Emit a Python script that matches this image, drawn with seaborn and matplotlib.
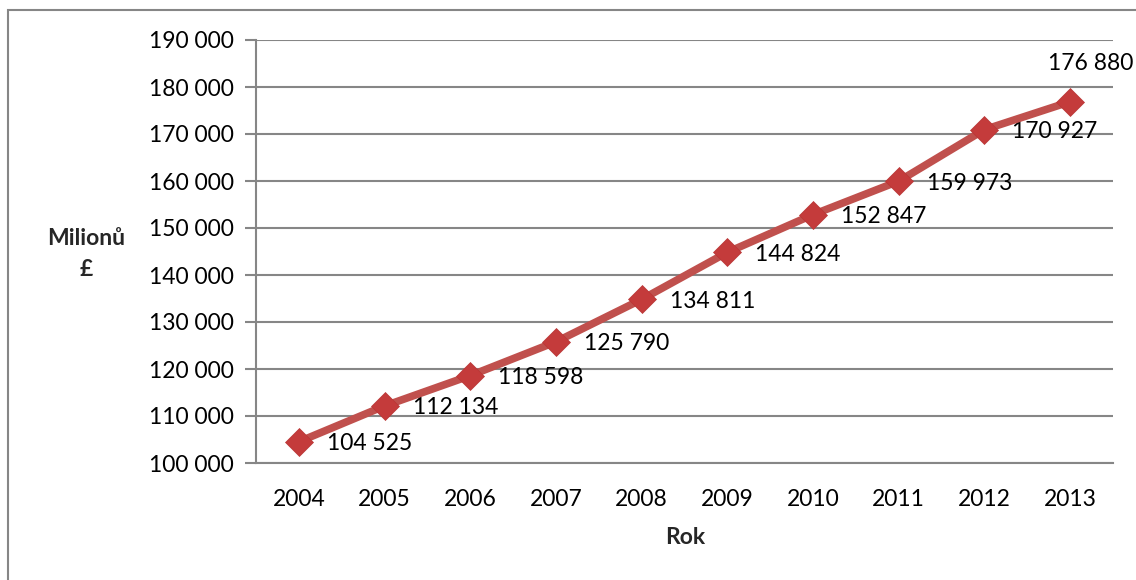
import matplotlib
matplotlib.use("Agg")
import matplotlib.pyplot as plt
import matplotlib.patches as mpatches
from matplotlib.ticker import FuncFormatter, FixedLocator
import seaborn as sns
import pandas as pd

years = ["2004", "2005", "2006", "2007", "2008", "2009", "2010", "2011", "2012", "2013"]
values = [104525, 112134, 118598, 125790, 134811, 144824, 152847, 159973, 170927, 176880]
y_ticks = [100000, 110000, 120000, 130000, 140000, 150000, 160000, 170000, 180000, 190000]
y_label = "Milionů\n£"
x_label = "Rok"

sns.set_style("white")
plt.rcParams["font.family"] = ["Lato", "DejaVu Sans"]

def fmt(v):
    return f"{int(v):,}".replace(",", " ")

W, H = 1136, 580
fig = plt.figure(figsize=(W / 100, H / 100), dpi=100)
ax = fig.add_axes([256 / W, 1 - 463 / H, (1113 - 256) / W, (463 - 40) / H])

df = pd.DataFrame({"pos": list(range(len(years))), "val": values})
line_color = "#C0504D"
sns.lineplot(data=df, x="pos", y="val", ax=ax, color=line_color, linewidth=5.5,
             marker="D", markersize=14.5, markerfacecolor="#C43B3B",
             markeredgecolor="#B83535", markeredgewidth=0.5, zorder=5)

ax.set_xlim(-0.5, len(years) - 0.5)
ax.set_ylim(y_ticks[0], y_ticks[-1])
ax.set_yticks(y_ticks)
ax.yaxis.set_major_formatter(FuncFormatter(lambda v, p: fmt(v)))
ax.set_xticks(range(len(years)))
ax.set_xticklabels(years)
ax.xaxis.set_minor_locator(FixedLocator([i - 0.5 for i in range(len(years) + 1)]))
grid_c = "#868686"
ax.tick_params(axis="x", which="major", length=0, pad=19, labelsize=16.5, labelcolor="black")
ax.tick_params(axis="x", which="minor", length=8, width=1.5, color=grid_c)
ax.tick_params(axis="y", which="major", length=8, width=1.5, color=grid_c, pad=8,
               labelsize=16.5, labelcolor="black", left=True)
ax.grid(axis="y", color=grid_c, linewidth=1.5)
ax.grid(axis="x", visible=False)
for s in ["top", "right"]:
    ax.spines[s].set_visible(False)
for s in ["left", "bottom"]:
    ax.spines[s].set_color(grid_c)
    ax.spines[s].set_linewidth(1.5)
ax.set_xlabel("")
ax.set_ylabel("")

for i, v in enumerate(values):
    if i == len(values) - 1:
        ax.annotate(fmt(v), (i, v), xytext=(21, 38), textcoords="offset pixels",
                    ha="center", va="center", fontsize=16.5, color="black", annotation_clip=False)
    else:
        ax.annotate(fmt(v), (i, v), xytext=(28, -2), textcoords="offset pixels",
                    ha="left", va="center", fontsize=16.5, color="black")

fig.text(86 / W, 1 - 254 / H, y_label, ha="center", va="center", fontsize=16.5,
         fontweight="bold", linespacing=1.6)
fig.text(685 / W, 1 - 538 / H, x_label, ha="center", va="center", fontsize=16.5,
         fontweight="bold")

rect = mpatches.Rectangle((8 / W, -0.1), 1.2, 1 - 10 / H + 0.1, transform=fig.transFigure,
                          fill=False, edgecolor=grid_c, linewidth=1.5, clip_on=False)
fig.patches.append(rect)

fig.savefig("out.png", dpi=100)
